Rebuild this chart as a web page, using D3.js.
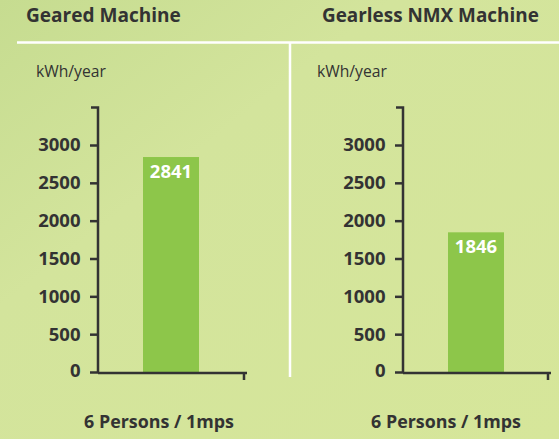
<!DOCTYPE html>
<html><head><meta charset="utf-8">
<script src="https://cdn.jsdelivr.net/npm/d3@7"></script>
<style>html,body{margin:0;padding:0;overflow:hidden;}svg{display:block;}</style>
</head><body>
<svg id="c" width="559" height="439"></svg>
<script>
const panels = ["Geared Machine", "Gearless NMX Machine"];
const categories = ["6 Persons / 1mps"];
const values = [2841, 1846];
const yTicks = [0, 500, 1000, 1500, 2000, 2500, 3000];
const unitLabel = "kWh/year";

const svg = d3.select("#c");
const W = 559, H = 439;
const font = "'Open Sans', sans-serif";

const defs = svg.append("defs");
const g = defs.append("linearGradient").attr("id","bg").attr("x1","0").attr("y1","0").attr("x2","1").attr("y2","1");
g.append("stop").attr("offset","0").attr("stop-color","#c6dc90");
g.append("stop").attr("offset","0.35").attr("stop-color","#d3e49c");
g.append("stop").attr("offset","1").attr("stop-color","#d6e69a");
svg.append("rect").attr("width",W).attr("height",H).attr("fill","url(#bg)");

// separators
svg.append("line").attr("x1",17).attr("x2",W).attr("y1",42.5).attr("y2",42.5).attr("stroke","#fff").attr("stroke-width",2.5);
svg.append("line").attr("x1",290).attr("x2",290).attr("y1",42).attr("y2",377).attr("stroke","#fff").attr("stroke-width",2.5);

const y = d3.scaleLinear().domain([0,3000]).range([372,145]);

const layout = [
  {titleX:26, unitX:36, axisX:98, xEnd:247, catX:159},
  {titleX:322, unitX:317, axisX:403, xEnd:551, catX:446}
];

function fit(sel, w){
  const n = sel.node(); const cur = n.getComputedTextLength();
  const fs = parseFloat(sel.attr("font-size"));
  sel.attr("font-size", fs*w/cur);
}

panels.forEach((p,i)=>{
  const L = layout[i];
  const t = svg.append("text").attr("x",L.titleX).attr("y",22).text(p)
    .attr("font-family",font).attr("font-weight","bold").attr("font-size",18).attr("fill","#333");
  fit(t, i===0 ? 155 : 217);
  const u = svg.append("text").attr("x",L.unitX).attr("y",77).text(unitLabel)
    .attr("font-family",font).attr("font-size",15).attr("fill","#333");
  fit(u, 70);

  const barW = 56;
  const bx = L.axisX + 45;

  // bar
  svg.append("rect").attr("x",bx).attr("width",barW)
    .attr("y",y(values[i])).attr("height",y(0)-y(values[i]))
    .attr("fill","#8dc64a");
  svg.append("text").attr("x",bx+barW/2).attr("y",y(values[i])+21).attr("text-anchor","middle")
    .text(values[i]).attr("font-family",font).attr("font-weight","bold").attr("font-size",18.5).attr("fill","#fff");

  // y axis
  const ya = svg.append("g").attr("transform",`translate(${L.axisX},0)`)
    .call(d3.axisLeft(y).tickValues(yTicks).tickFormat(d3.format("d")).tickSize(8).tickPadding(9.5).tickSizeOuter(0));
  ya.select(".domain").remove();
  ya.selectAll(".tick line").attr("stroke","#333").attr("stroke-width",2.5);
  ya.selectAll(".tick text").attr("font-family",font).attr("font-weight","bold").attr("font-size",18.5).attr("fill","#333");
  ya.select(".tick text").attr("dy","0.25em");
  svg.append("path").attr("d",`M${L.axisX-7},107.5H${L.axisX}V373`).attr("fill","none").attr("stroke","#333").attr("stroke-width",2.5);
  // x axis
  svg.append("path").attr("d",`M${L.axisX},373H${L.xEnd}M${L.xEnd-3},373V380`).attr("fill","none").attr("stroke","#333").attr("stroke-width",2.5);

  const c = svg.append("text").attr("x",L.catX).attr("y",428).attr("text-anchor","middle").text(categories[0])
    .attr("font-family",font).attr("font-weight","bold").attr("font-size",18).attr("fill","#333");
  fit(c, 150);
});
</script>
</body></html>
